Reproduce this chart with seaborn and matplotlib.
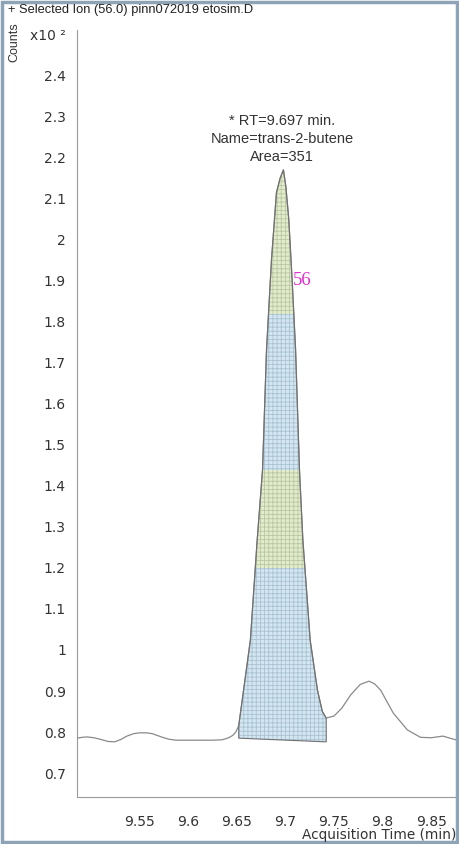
import numpy as np
import pandas as pd
import matplotlib
matplotlib.use("Agg")
import matplotlib.pyplot as plt
from matplotlib.patches import Polygon, Rectangle
import seaborn as sns

# ---- data (counts in units of x10^2) ----
times = [9.4857, 9.491, 9.496, 9.503, 9.51, 9.5175, 9.5245, 9.531, 9.537, 9.544,
         9.55, 9.557, 9.563, 9.569, 9.575, 9.581, 9.5878, 9.6245, 9.635, 9.6418,
         9.646, 9.649, 9.652, 9.657, 9.664, 9.671, 9.6765, 9.6806, 9.6857, 9.6908,
         9.6945, 9.698, 9.7005, 9.7035, 9.707, 9.7105, 9.7145, 9.718, 9.7255, 9.733,
         9.738, 9.742, 9.750, 9.758, 9.767, 9.777, 9.786, 9.792, 9.798, 9.811,
         9.8255, 9.839, 9.850, 9.862, 9.8765]
counts = [0.785, 0.787, 0.788, 0.786, 0.782, 0.777, 0.776, 0.782, 0.790, 0.796,
          0.798, 0.798, 0.796, 0.791, 0.786, 0.782, 0.780, 0.780, 0.781, 0.786,
          0.792, 0.800, 0.815, 0.902, 1.024, 1.268, 1.439, 1.732, 1.951, 2.115,
          2.150, 2.171, 2.130, 2.050, 1.900, 1.732, 1.439, 1.268, 1.024, 0.902,
          0.850, 0.834, 0.839, 0.858, 0.890, 0.916, 0.924, 0.917, 0.902, 0.846,
          0.805, 0.787, 0.786, 0.790, 0.780]

peak_start, peak_end = 9.652, 9.742
peak_base = [0.785, 0.776]
band_edges = [0.70, 1.20, 1.44, 1.82, 2.30]
band_colors = ["#d3e6f1", "#e2ebcc", "#d3e6f1", "#e2ebcc"]
band_hatch = ["#a9c3d3", "#b9c8a2", "#a9c3d3", "#b9c8a2"]

xticks = [9.5, 9.55, 9.6, 9.65, 9.7, 9.75, 9.8, 9.85]
xticklabels = ["", "9.55", "9.6", "9.65", "9.7", "9.75", "9.8", "9.85"]
yticks = [0.7, 0.8, 0.9, 1.0, 1.1, 1.2, 1.3, 1.4, 1.5, 1.6, 1.7, 1.8, 1.9, 2.0,
          2.1, 2.2, 2.3, 2.4, 2.5]
yticklabels = ["0.7", "0.8", "0.9", "1", "1.1", "1.2", "1.3", "1.4", "1.5", "1.6",
               "1.7", "1.8", "1.9", "2", "2.1", "2.2", "2.3", "2.4", "x10 \u00b2"]

title = "+ Selected Ion (56.0) pinn072019 etosim.D"
annot = ["* RT=9.697 min.", "Name=trans-2-butene", "Area=351"]
ion_label = "56"

sns.set_style("white")
plt.rcParams["font.family"] = ["Liberation Sans", "DejaVu Sans"]
plt.rcParams["hatch.linewidth"] = 0.6

fig = plt.figure(figsize=(4.59, 8.44), dpi=100)
ax = fig.add_axes([77 / 459, 1 - 797 / 844, 380 / 459, 767 / 844])

df = pd.DataFrame({"t": times, "c": counts})

# shaded integration region
seg = df[(df.t >= peak_start - 1e-9) & (df.t <= peak_end + 1e-9)]
verts = list(zip(seg.t, seg.c)) + [(peak_end, peak_base[1]), (peak_start, peak_base[0])]
poly = Polygon(verts, closed=True, facecolor="none", edgecolor="#707070", lw=0.8, zorder=4)
ax.add_patch(poly)
for i in range(len(band_colors)):
    span = ax.axhspan(band_edges[i], band_edges[i + 1], facecolor=band_colors[i],
                      edgecolor=band_hatch[i], hatch="++++", lw=0, zorder=2)
    span.set_clip_path(poly)

sns.lineplot(data=df, x="t", y="c", ax=ax, color="#8a8a8a", lw=0.9, sort=False, zorder=3)

ax.set_xlim(9.4857, 9.8765)
ax.set_ylim(0.6415, 2.512)
ax.set_xticks(xticks)
ax.set_xticklabels(xticklabels)
ax.set_yticks(yticks)
ax.set_yticklabels(yticklabels)
ax.set_xlabel("")
ax.set_ylabel("")
for s in ["top", "right"]:
    ax.spines[s].set_visible(False)
for s in ["left", "bottom"]:
    ax.spines[s].set_color("#9a9a9a")
    ax.spines[s].set_linewidth(0.8)
ax.tick_params(axis="both", which="both", direction="out", color="#9a9a9a",
               labelcolor="#333333", labelsize=10, width=0.8)
ax.tick_params(axis="x", length=7, pad=6)
ax.tick_params(axis="y", length=4, pad=4)
for lab in ax.get_xticklabels() + ax.get_yticklabels():
    lab.set_fontfamily(["DejaVu Sans"])

fig.text(8 / 459, 1 - 10 / 844, title, fontsize=9.3, color="#222222", va="center", ha="left")
fig.text(14 / 459, 1 - 42 / 844, "Counts", fontsize=9, rotation=90, color="#333333",
         va="center", ha="center")
fig.text(456 / 459, 1 - 835 / 844, "Acquisition Time (min)", fontsize=9.8,
         color="#333333", va="center", ha="right", family=["DejaVu Sans"])

for k, line in enumerate(annot):
    fig.text(282 / 459, 1 - (121 + 18 * k) / 844, line, fontsize=10.5,
             color="#333333", ha="center", va="center")

ax.text(9.7075, 1.9, ion_label, color="#e030d0", fontsize=13.5,
        family=["Liberation Serif", "DejaVu Serif"], ha="left", va="center")

fig.add_artist(Rectangle((0.004, 0.002), 0.992, 0.996, transform=fig.transFigure,
                         fill=False, edgecolor="#8fa3b6", lw=2.5))

fig.savefig("out.png", dpi=100)
